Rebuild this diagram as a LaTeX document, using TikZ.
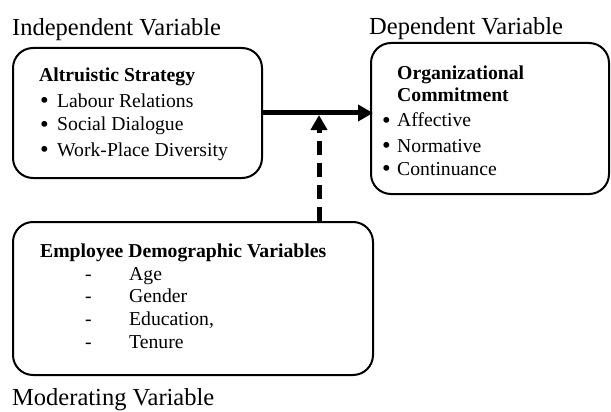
\documentclass[tikz,border=0pt]{standalone}
\usepackage{fontspec}
\setmainfont{Liberation Serif}
\usetikzlibrary{arrows.meta}
\newcommand{\bigbullet}{\raisebox{-1.8pt}{\scalebox{1.25}{\textbullet}}}
\begin{document}
\begin{tikzpicture}[x=1pt,y=-1pt,
  box/.style={draw,line width=2pt,rounded corners=20pt,inner sep=0pt},
  caption/.style={anchor=base west,inner sep=0pt,font=\fontsize{24.5}{28}\selectfont},
  line/.style={anchor=base west,inner sep=0pt,font=\fontsize{19.7}{23}\selectfont},
  head/.style={line,font=\fontsize{19.7}{23}\selectfont\bfseries},
  link/.style={line width=5pt,-{Triangle[length=15pt,width=16pt]}}]
\useasboundingbox (0,0) rectangle (611,412);

% variable captions
\node[caption] (capI) at (12,36) {Independent Variable};
\node[caption] (capD) at (369,35) {Dependent Variable};
\node[caption] (capM) at (12,405) {Moderating Variable};

% frames
\node[box,minimum width=249pt,minimum height=130pt] (indep) at (137.5,113) {};
\node[box,minimum width=238pt,minimum height=151pt] (dep) at (490,118.5) {};
\node[box,minimum width=360pt,minimum height=153pt] (mod) at (193,298.5) {};

% independent variable contents
\node[head] (iH) at (39,82) {Altruistic Strategy};
\node[line] (iB1) at (40,107) {\bigbullet};
\node[line] (iB2) at (40,131) {\bigbullet};
\node[line] (iB3) at (40,156) {\bigbullet};
\node[line] (i1) at (57,107) {Labour Relations};
\node[line] (i2) at (57,131) {Social Dialogue};
\node[line] (i3) at (57,156) {Work-Place Diversity};

% dependent variable contents
\node[head] (dH1) at (397,80) {Organizational};
\node[head] (dH2) at (397,102) {Commitment};
\node[line] (dB1) at (382,127) {\bigbullet};
\node[line] (dB2) at (382,152) {\bigbullet};
\node[line] (dB3) at (382,175) {\bigbullet};
\node[line] (d1) at (397,127) {Affective};
\node[line] (d2) at (397,152) {Normative};
\node[line] (d3) at (397,175) {Continuance};

% moderating variable contents
\node[head] (mH) at (40,257) {Employee Demographic Variables};
\node[line] (mD1) at (85,280) {-};
\node[line] (mD2) at (85,302) {-};
\node[line] (mD3) at (85,325) {-};
\node[line] (mD4) at (85,348) {-};
\node[line] (m1) at (129,280) {Age};
\node[line] (m2) at (129,302) {Gender};
\node[line] (m3) at (129,325) {Education,};
\node[line] (m4) at (129,348) {Tenure};

% connectors
\coordinate (mtip) at (319,115);
\draw[link] (indep.east |- 0,113) -- ([xshift=3pt]dep.west |- 0,113);
\draw[link,dash pattern=on 14pt off 8pt] (mod.north -| mtip) -- (mtip);
\end{tikzpicture}
\end{document}
